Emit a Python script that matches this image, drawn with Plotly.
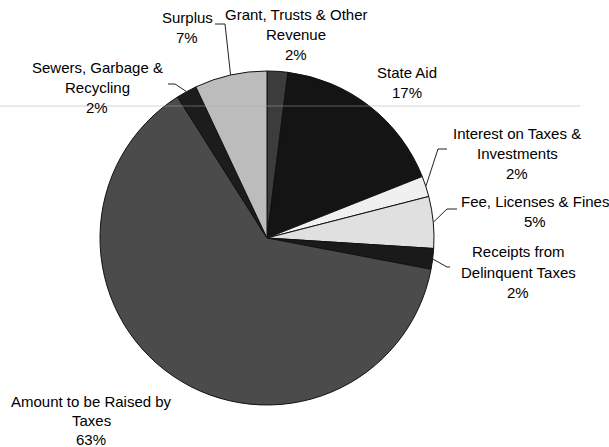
import math
import plotly.graph_objects as go

# ---- data ----
labels = [
    "Grant, Trusts & Other Revenue",
    "State Aid",
    "Interest on Taxes & Investments",
    "Fee, Licenses & Fines",
    "Receipts from Delinquent Taxes",
    "Amount to be Raised by Taxes",
    "Sewers, Garbage & Recycling",
    "Surplus",
]
values = [2, 17, 2, 5, 2, 63, 2, 7]
label_lines = [
    ["Grant, Trusts & Other", "Revenue"],
    ["State Aid"],
    ["Interest on Taxes &", "Investments"],
    ["Fee, Licenses & Fines"],
    ["Receipts from", "Delinquent Taxes"],
    ["Amount to be Raised by", "Taxes"],
    ["Sewers, Garbage &", "Recycling"],
    ["Surplus"],
]

# ---- style / layout ----
colors = ["#3c3c3c", "#141414", "#f0f0f0", "#e0e0e0", "#1a1a1a",
          "#4b4b4b", "#1c1c1c", "#bcbcbc"]
W, H = 609, 447
CX, CY, R = 267, 238, 167  # pie centre / radius in pixels
# label anchor: (centre x, first line y, line spacing)
label_pos = [(296, 15, 20), (407, 72, 20), (517, 133, 20), (535, 202, 20),
             (518, 252, 20), (91, 401, 19), (97, 67, 20), (187, 17, 20)]
# leader line start points (text end, elbow); None = no leader
leaders = [None, None, [(447, 149), (438, 149)], [(457, 209), (447, 209)],
           [(450, 267), (447, 267)], None, [(168, 84), (175, 84)],
           [(215, 24), (225, 24)]]

FONT = "Liberation Sans, Arial, sans-serif"


def px(x):
    return x / W


def py(y):
    return 1 - y / H


fig = go.Figure(go.Pie(
    labels=labels, values=values, sort=False, direction="clockwise",
    rotation=0, textinfo="none", hoverinfo="label+percent",
    marker=dict(colors=colors, line=dict(color="#111111", width=1)),
    domain=dict(x=[px(CX - R), px(CX + R)], y=[py(CY + R), py(CY - R)]),
    showlegend=False,
))

total = sum(values)
annotations = []
shapes = []
cum = 0
for i, v in enumerate(values):
    mid = (cum + v / 2) / total * 2 * math.pi
    cum += v
    lx, ly, sp = label_pos[i]
    lines = label_lines[i] + [f"{round(v / total * 100)}%"]
    for k, t in enumerate(lines):
        annotations.append(dict(
            x=px(lx), y=py(ly + k * sp), xref="paper", yref="paper",
            text=t, showarrow=False, xanchor="center", yanchor="middle",
            font=dict(family=FONT, size=15, color="#000000")))
    if leaders[i]:
        ex = CX + R * math.sin(mid)
        ey = CY - R * math.cos(mid)
        pts = leaders[i] + [(ex, ey)]
        path = "M " + " L ".join(f"{px(a)},{py(b)}" for a, b in pts)
        shapes.append(dict(type="path", path=path, xref="paper", yref="paper",
                           line=dict(color="#222222", width=1)))

# faint horizontal scan line seen across the original image
shapes.append(dict(type="line", xref="paper", yref="paper",
                   x0=0, x1=px(580), y0=py(106), y1=py(106),
                   line=dict(color="rgba(170,170,170,0.5)", width=1)))

fig.update_layout(
    width=W, height=H, margin=dict(l=0, r=0, t=0, b=0),
    paper_bgcolor="white", plot_bgcolor="white",
    annotations=annotations, shapes=shapes,
)

fig.write_html("out.html",
               config={"displayModeBar": False},
               post_script="document.body.style.margin='0';"
                           "document.body.style.overflow='hidden';")
